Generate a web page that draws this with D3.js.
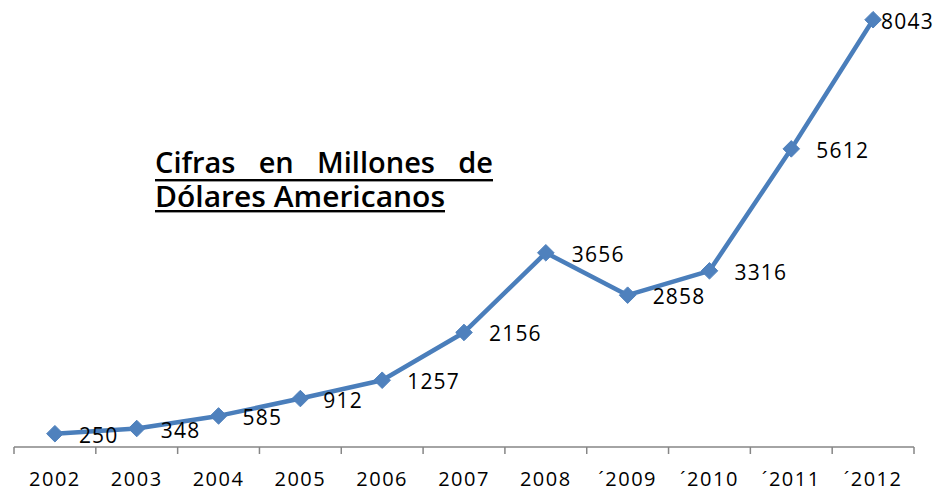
<!DOCTYPE html>
<html>
<head>
<meta charset="utf-8">
<script src="https://cdn.jsdelivr.net/npm/d3@7"></script>
<style>
  html, body { margin: 0; padding: 0; background: #fff; }
  svg { display: block; }
</style>
</head>
<body>
<svg id="chart" width="936" height="491"></svg>
<script>
// ---- data ----
const categories = ["2002", "2003", "2004", "2005", "2006", "2007", "2008", "\u00B42009", "\u00B42010", "\u00B42011", "\u00B42012"];
const values = [250, 348, 585, 912, 1257, 2156, 3656, 2858, 3316, 5612, 8043];
const titleLine1 = ["Cifras", "en", "Millones", "de"];
const titleLine2 = "Dólares Americanos";

// ---- layout / style ----
const W = 936, H = 491;
const plot = { left: 14, right: 914, bottom: 447, top: 22 };
const lineColor = "#4A7EBB";
const markerColor = "#4F81BD";
const labelDx = [24, 24, 24, 23, 25, 25, 26, 25, 25, 25, 8];
const labelFont = "'Open Sans', 'DejaVu Sans', sans-serif";

const svg = d3.select("#chart");

const x = d3.scaleBand().domain(categories).range([plot.left, plot.right]).paddingInner(0).paddingOuter(0);
const y = d3.scaleLinear().domain([0, 8000]).range([plot.bottom, plot.top]);

// x axis
const gx = svg.append("g").attr("transform", `translate(0,${plot.bottom})`);
gx.append("line")
  .attr("x1", plot.left).attr("x2", plot.right)
  .attr("y1", 0).attr("y2", 0)
  .attr("stroke", "#868686").attr("stroke-width", 1.5);
const bounds = categories.map(c => x(c)).concat([x(categories[categories.length - 1]) + x.bandwidth()]);
gx.selectAll("line.tick").data(bounds).enter().append("line")
  .attr("class", "tick")
  .attr("x1", d => d).attr("x2", d => d)
  .attr("y1", 0).attr("y2", 7)
  .attr("stroke", "#868686").attr("stroke-width", 1.5);
gx.selectAll("text.cat").data(categories).enter().append("text")
  .attr("class", "cat")
  .attr("x", d => x(d) + x.bandwidth() / 2)
  .attr("y", 39)
  .attr("text-anchor", "middle")
  .attr("font-family", labelFont)
  .attr("font-size", 20)
  .attr("letter-spacing", 1.5)
  .attr("fill", "#000")
  .text(d => d);

// line
const cx = (d, i) => x(categories[i]) + x.bandwidth() / 2;
const line = d3.line().x((d, i) => cx(d, i)).y(d => y(d));
svg.append("path")
  .datum(values)
  .attr("d", line)
  .attr("fill", "none")
  .attr("stroke", lineColor)
  .attr("stroke-width", 4.5)
  .attr("stroke-linejoin", "round");

// markers (diamonds)
const diamond = d3.symbol().type(d3.symbolDiamond2).size(175);
svg.selectAll("path.marker").data(values).enter().append("path")
  .attr("class", "marker")
  .attr("d", diamond)
  .attr("transform", (d, i) => `translate(${cx(d, i)},${y(d)})`)
  .attr("fill", markerColor)
  .attr("stroke", markerColor)
  .attr("stroke-width", 1);

// data labels
svg.selectAll("text.val").data(values).enter().append("text")
  .attr("class", "val")
  .attr("x", (d, i) => cx(d, i) + labelDx[i])
  .attr("y", d => y(d) + 9)
  .attr("font-family", labelFont)
  .attr("font-size", 21)
  .attr("letter-spacing", 1.2)
  .attr("fill", "#000")
  .text(d => d);

// title: one text element, justified first line, underlined
const titleFont = "'Open Sans', Lato, sans-serif";
const tx = 155, tw = 338, tsize = 29, tw2 = 290;
const title = svg.append("text")
  .attr("font-family", titleFont)
  .attr("font-weight", 600)
  .attr("font-size", tsize)
  .attr("fill", "#000");
const words = title.selectAll("tspan.w").data(titleLine1).enter().append("tspan")
  .attr("class", "w")
  .attr("y", 173)
  .text(d => d);
const widths = [];
words.each(function () { widths.push(this.getComputedTextLength()); });
const gap = (tw - d3.sum(widths)) / (titleLine1.length - 1);
let cur = tx;
words.attr("x", (d, i) => { const v = cur; cur += widths[i] + gap; return v; });
title.append("tspan")
  .attr("x", tx).attr("y", 207)
  .attr("textLength", tw2)
  .attr("lengthAdjust", "spacingAndGlyphs")
  .text(titleLine2);

svg.append("rect").attr("x", tx).attr("y", 179).attr("width", tw).attr("height", 2.4).attr("fill", "#000");
svg.append("rect").attr("x", tx).attr("y", 210).attr("width", tw2).attr("height", 2.4).attr("fill", "#000");
</script>
</body>
</html>
